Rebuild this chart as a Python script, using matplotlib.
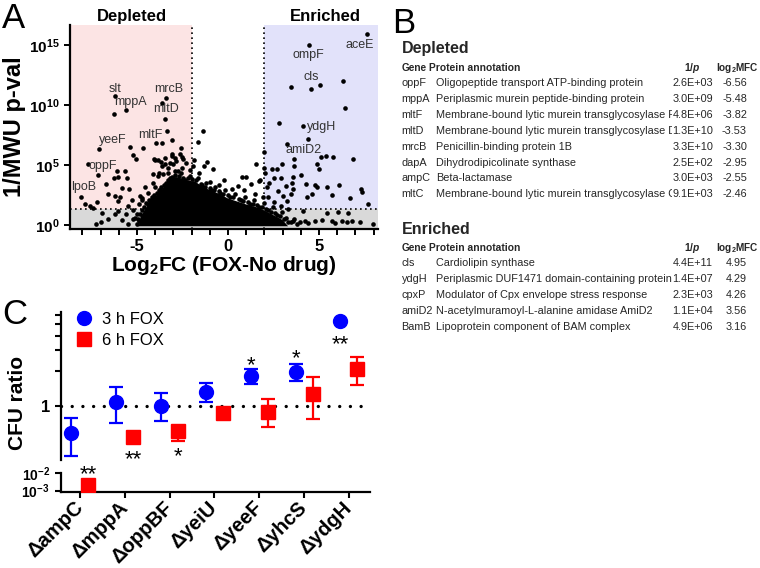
import matplotlib
matplotlib.use('Agg')
import matplotlib.pyplot as plt
import numpy as np
from matplotlib.lines import Line2D
from matplotlib.ticker import MultipleLocator, NullLocator
from matplotlib.transforms import Bbox, TransformedBbox

plt.rcParams['font.family'] = 'Liberation Sans'
plt.rcParams['mathtext.fontset'] = 'custom'
plt.rcParams['mathtext.rm'] = 'Liberation Sans'
plt.rcParams['mathtext.bf'] = 'Liberation Sans:bold'
plt.rcParams['mathtext.it'] = 'Liberation Sans:bold:italic'
plt.rcParams['axes.unicode_minus'] = False

# ---------------- panel A data: (log2 FC, log10 of 1/p) ----------------
depleted_pts = [
    (-6.21, 10.78), (-5.62, 9.58), (-6.25, 9.22), (-3.41, 10.56), (-3.63, 10.2), (-3.46, 8.87),
    (-3.35, 7.83), (-3.06, 7.08), (-3.94, 6.81), (-3.64, 6.81), (-4.65, 6.39), (-5.37, 6.53),
    (-7.07, 6.31), (-2.58, 6.45), (-5.2, 5.81), (-5.05, 5.48), (-4.05, 5.53), (-3.86, 5.42),
    (-3.46, 5.62), (-3.06, 5.75), (-2.87, 5.33), (-2.51, 5.67), (-7.71, 5.06), (-7.13, 4.14),
    (-6.12, 4.5), (-5.66, 4.47), (-6.25, 3.95), (-6.03, 4.03), (-5.57, 3.95), (-6.72, 3.39),
    (-5.84, 3.11), (-5.42, 2.97), (-6.58, 2.56), (-8.05, 2.3), (-7.86, 1.73), (-7.58, 1.58),
    (-7.21, 1.87), (-6.21, 2.42), (-5.93, 2.34), (-6.03, 1.95), (-5.48, 1.58), (-4.84, 2.42),
    (-4.71, 2.06), (-5.29, 2.06), (-4.41, 1.73), (-4.23, 2.06), (-4.01, 3.12), (-3.8, 2.9),
    (-4.1, 4.22), (-3.79, 4.36), (-3.61, 4.92), (-3.28, 4.78), (-3.0, 5.06), (-2.73, 4.5),
    (-2.32, 5.2), (-7.27, 0.06), (-6.98, 0.2), (-6.58, 0.48), (-6.21, 0.9), (-6.03, 1.17),
    (-5.8, 0.4), (-5.5, 0.1), (-5.2, 0.5), (-5.0, 0.9), (-4.9, 0.3), (-5.6, 0.9), (-6.9, 1.0),
    (-7.4, 1.4), (-4.01, 5.42), (-3.7, 5.25), (-3.46, 5.06), (-3.19, 5.14), (-2.91, 4.5),
    (-2.54, 4.78), (-2.45, 5.48), (-3.55, 4.22), (-3.83, 4.08), (-3.28, 4.36), (-4.56, 3.12),
    (-4.38, 2.7), (-4.74, 2.28), (-4.1, 3.53), (-2.64, 5.89), (-3.1, 5.9), (-2.9, 5.6),
]
middle_pts = [
    (-1.36, 7.8), (-1.67, 6.93), (-1.87, 5.42), (-1.14, 5.25), (-0.81, 4.7), (-1.32, 4.92),
    (-0.22, 3.75), (0.79, 4.03), (1.0, 4.03), (1.54, 5.06), (1.99, 6.11), (1.98, 4.72),
    (1.76, 3.75), (0.57, 3.25), (1.26, 3.45), (1.72, 3.64), (0.2, 3.0), (-0.5, 3.3),
    (-1.6, 4.3), (-2.1, 4.6), (-1.9, 4.9), (0.9, 2.9), (1.5, 2.6), (1.9, 2.3), (-1.0, 3.6),
]
enriched_pts = [
    (7.62, 15.97), (4.47, 15.03), (3.45, 11.5), (4.56, 11.35), (5.05, 11.7), (6.3, 12.0),
    (6.4, 9.8), (2.8, 8.47), (4.14, 8.3), (4.38, 7.2), (3.22, 6.72), (5.11, 5.7), (5.38, 5.75),
    (5.75, 5.67), (6.85, 5.53), (2.03, 4.36), (2.4, 4.64), (2.67, 4.64), (2.95, 5.11),
    (3.64, 5.48), (3.64, 4.92), (2.55, 3.95), (2.89, 3.95), (3.59, 4.03), (4.0, 4.17),
    (4.87, 5.06), (5.02, 4.7), (4.29, 3.39), (4.78, 3.31), (4.87, 3.12), (5.42, 3.17),
    (6.12, 3.33), (4.6, 2.56), (4.32, 2.34), (5.7, 2.48), (6.7, 2.22), (7.29, 2.97),
    (7.34, 2.75), (7.71, 1.78), (3.19, 3.25), (3.5, 3.53), (3.59, 2.97), (2.12, 3.12),
    (2.27, 3.53), (2.76, 2.83), (3.04, 2.42), (3.22, 2.0), (3.46, 2.61), (4.1, 1.12),
    (5.42, 0.95), (6.61, 0.95), (6.06, 1.03), (3.59, 0.3), (3.96, 0.2), (4.23, 0.35),
    (4.41, 0.15), (4.78, 0.3), (5.15, 0.4), (5.7, 0.3), (5.88, 0.15), (6.25, 0.35),
    (6.52, 0.2), (6.8, 0.3), (7.25, 0.25), (7.98, 0.05), (2.2, 2.3), (2.5, 1.9), (2.9, 1.6),
    (3.3, 1.3),
]
blob_edge_pts = [
    (-4.7, 1.2), (-4.5, 1.8), (-4.2, 2.3), (-3.9, 2.7), (-3.7, 3.2), (-3.4, 3.5), (-3.2, 3.9),
    (-2.9, 4.2), (-2.7, 4.1), (-2.45, 3.95), (-2.2, 3.9), (-2.0, 3.8), (-1.75, 3.75),
    (-1.5, 3.45), (-1.25, 3.2), (-1.0, 3.1), (-0.75, 2.9), (-0.5, 2.8), (-0.25, 2.6),
    (0.0, 2.45), (0.3, 2.3), (0.6, 2.15), (0.85, 2.0), (1.1, 1.9), (1.35, 1.75), (1.6, 1.65),
    (1.85, 1.5), (2.1, 1.35), (2.35, 1.1), (2.6, 0.95), (2.85, 0.7), (3.1, 0.5), (3.3, 0.25),
    (-4.95, 0.5), (-5.0, 0.1),
    (-4.85, 0.9), (-4.6, 1.5), (-4.35, 2.05), (-4.05, 2.5), (-3.95, 2.1), (-3.75, 2.95),
    (-3.5, 3.3), (-3.3, 3.75), (-3.05, 4.0), (-2.85, 3.85), (-2.6, 4.3), (-2.35, 3.75),
    (-2.1, 4.05), (-1.9, 3.5), (-1.65, 3.9), (-1.45, 3.3), (-1.2, 3.5), (-0.95, 2.95),
    (-0.7, 3.2), (-0.45, 2.7), (-0.15, 2.9), (0.1, 2.35), (0.4, 2.6), (0.7, 2.05),
    (0.95, 2.35), (1.2, 1.75), (1.45, 2.1), (1.7, 1.45), (1.95, 1.8), (2.2, 1.2), (2.45, 1.5),
    (2.7, 0.8), (2.95, 1.1), (3.2, 0.6), (3.45, 0.2), (3.6, 0.5), (3.8, 0.1), (-5.1, 0.6),
    (-5.2, 1.2), (-4.9, 1.7),
]
# outline of the solid mass of overlapping points in the middle
blob_fc = [-4.9, -4.8, -4.5, -4.3, -3.9, -3.6, -3.3, -3.0, -2.6, -2.2, -1.8, -1.4, -1.0,
           -0.5, 0.0, 0.5, 1.0, 1.5, 2.0, 2.5, 3.0, 3.3]
blob_logp = [-0.12, 0.7, 1.4, 2.0, 2.5, 3.0, 3.6, 4.0, 3.9, 3.7, 3.6, 3.2, 2.9,
             2.6, 2.2, 1.95, 1.7, 1.5, 1.2, 0.8, 0.4, -0.12]
gene_labels = ['slt', 'mppA', 'mrcB', 'mltD', 'mltF', 'yeeF', 'oppF', 'lpoB',
               'ompF', 'aceE', 'cls', 'ydgH', 'amiD2']
gene_label_fc = [-6.2, -5.35, -3.28, -3.42, -4.29, -6.34, -6.9, -7.95,
                 4.41, 7.25, 4.6, 5.15, 4.14]
gene_label_logp = [11.37, 10.25, 11.37, 9.64, 7.48, 7.06, 4.92, 3.2,
                   14.23, 15.0, 12.33, 8.17, 6.25]

# ---------------- panel B data ----------------
depleted_rows = [
    ('oppF', 'Oligopeptide transport ATP-binding protein', '2.6E+03', '-6.56'),
    ('mppA', 'Periplasmic murein peptide-binding protein', '3.0E+09', '-5.48'),
    ('mltF', 'Membrane-bound lytic murein transglycosylase F', '4.8E+06', '-3.82'),
    ('mltD', 'Membrane-bound lytic murein transglycosylase D', '1.3E+10', '-3.53'),
    ('mrcB', 'Penicillin-binding protein 1B', '3.3E+10', '-3.30'),
    ('dapA', 'Dihydrodipicolinate synthase', '2.5E+02', '-2.95'),
    ('ampC', 'Beta-lactamase', '3.0E+03', '-2.55'),
    ('mltC', 'Membrane-bound lytic murein transglycosylase C', '9.1E+03', '-2.46'),
]
enriched_rows = [
    ('cls', 'Cardiolipin synthase', '4.4E+11', '4.95'),
    ('ydgH', 'Periplasmic DUF1471 domain-containing protein', '1.4E+07', '4.29'),
    ('cpxP', 'Modulator of Cpx envelope stress response', '2.3E+03', '4.26'),
    ('amiD2', 'N-acetylmuramoyl-L-alanine amidase AmiD2', '1.1E+04', '3.56'),
    ('BamB', 'Lipoprotein component of BAM complex', '4.9E+06', '3.16'),
]

# ---------------- panel C data ----------------
strains = ['\u0394ampC', '\u0394mppA', '\u0394oppBF', '\u0394yeiU', '\u0394yeeF', '\u0394yhcS', '\u0394ydgH']
fox3h = [0.579, 1.08, 1.0, 1.32, 1.80, 1.95, 5.35]
fox3h_lo = [0.372, 0.706, 0.743, 1.07, 1.54, 1.64, 5.35]
fox3h_hi = [0.78, 1.456, 1.28, 1.58, 2.08, 2.27, 5.35]
fox6h = [2.1e-3, 0.54, 0.605, 0.86, 0.89, 1.26, 2.07]
fox6h_lo = [2.1e-3, 0.54, 0.497, 0.86, 0.656, 0.77, 1.51]
fox6h_hi = [2.1e-3, 0.54, 0.64, 0.86, 1.14, 1.75, 2.62]
stars3h = ['', '', '', '', '*', '*', '**']
stars6h = ['**', '**', '*', '', '', '', '']


def fx(px):
    return px / 760.0


def fy(py):
    return 1 - py / 568.0


fig = plt.figure(figsize=(7.6, 5.68), dpi=100)

# ======================= A: volcano =======================
ax = fig.add_axes([fx(70), fy(229), fx(308), 204 / 568.0])
xlo, xhi = -8.68, 8.24
ylo, yhi = 10 ** -0.35, 10 ** 16.7
ax.set_xlim(xlo, xhi)
ax.set_yscale('log')
ax.set_ylim(ylo, yhi)
ax.axvspan(xlo, -2, color='#fce4e4', zorder=0, lw=0)
ax.axvspan(2, xhi, color='#e2e2fa', zorder=0, lw=0)
ax.axhspan(ylo, 20, color='#d9d9d9', zorder=0.5, lw=0)
for v in (-2, 2):
    ax.axvline(v, color='black', ls=(0, (1, 2)), lw=1.2, zorder=1)
ax.axhline(20, color='black', ls=(0, (1, 2)), lw=1.2, zorder=1)

ax.fill(blob_fc, 10 ** np.array(blob_logp), color='black', lw=0, zorder=2)
for pts in (depleted_pts, middle_pts, enriched_pts, blob_edge_pts):
    xs, ls = zip(*pts)
    ax.scatter(xs, 10 ** np.array(ls), s=11, color='black', lw=0, zorder=3)

for lab, gx, gl in zip(gene_labels, gene_label_fc, gene_label_logp):
    ax.text(gx, 10 ** gl, lab, fontsize=9, color='#333333', ha='center', va='center', zorder=4)

for side in ('top', 'right'):
    ax.spines[side].set_visible(False)
for side in ('left', 'bottom'):
    ax.spines[side].set_linewidth(1.6)
ax.xaxis.set_major_locator(MultipleLocator(5))
ax.xaxis.set_minor_locator(MultipleLocator(1))
ax.tick_params(axis='x', which='both', length=4, width=1.4)
ax.set_yticks([1, 1e5, 1e10, 1e15])
ax.set_yticklabels([r'$\mathbf{10^{0}}$', r'$\mathbf{10^{5}}$', r'$\mathbf{10^{10}}$', r'$\mathbf{10^{15}}$'],
                   fontsize=11)
ax.yaxis.set_minor_locator(NullLocator())
ax.tick_params(axis='y', length=4, width=1.4)
for t in ax.get_xticklabels():
    t.set_fontweight('bold')
    t.set_fontsize(12)
ax.set_xlabel(r'Log$_\mathbf{2}$FC (FOX-No drug)', fontsize=15, fontweight='bold', labelpad=0)
ax.set_ylabel('1/MWU p-val', fontsize=17, fontweight='bold', labelpad=2)

fig.text(fx(132), fy(16), 'Depleted', fontsize=12, fontweight='bold', ha='center', va='center')
fig.text(fx(325), fy(16.5), 'Enriched', fontsize=12, fontweight='bold', ha='center', va='center')

# panel letters
fig.text(fx(2), fy(2), 'A', fontsize=25, va='top', ha='left')
fig.text(fx(392), fy(7), 'B', fontsize=25, va='top', ha='left')
fig.text(fx(2), fy(298), 'C', fontsize=25, va='top', ha='left')

# ======================= B: tables =======================
txt = '#262626'
clip = TransformedBbox(Bbox.from_extents(fx(430), 0, fx(672), 1), fig.transFigure)


def table(title, title_y, head_y, row_y0, rows):
    fig.text(fx(401.5), fy(title_y), title, fontsize=11.5, fontweight='bold', va='center', color=txt)
    fig.text(fx(401.5), fy(head_y), 'Gene', fontsize=7.2, fontweight='bold', va='center', color=txt)
    fig.text(fx(429), fy(head_y), 'Protein annotation', fontsize=7.4, fontweight='bold', va='center', color=txt)
    fig.text(fx(692), fy(head_y), r'1/$\mathit{p}$', fontsize=7.4, fontweight='bold', va='center', ha='center', color=txt)
    fig.text(fx(716), fy(head_y), r'log$_\mathbf{2}$MFC', fontsize=7.2, fontweight='bold', va='center', color=txt)
    for i, (g, ann, p, mfc) in enumerate(rows):
        y = fy(row_y0 + i * 15.85)
        fig.text(fx(401.5), y, g, fontsize=7.8, va='center', color=txt)
        t = fig.text(fx(436), y, ann, fontsize=7.8, va='center', color=txt)
        t.set_clip_box(clip)
        t.set_clip_on(True)
        fig.text(fx(713), y, p, fontsize=7.8, va='center', ha='right', color=txt)
        fig.text(fx(747), y, mfc, fontsize=7.8, va='center', ha='right', color=txt)


table('Depleted', 49, 67.7, 83.3, depleted_rows)
table('Enriched', 229.3, 247.7, 263.3, enriched_rows)

# ======================= C: CFU ratio =======================
axc = fig.add_axes([fx(61), fy(460), fx(309), (460 - 311.7) / 568.0])
axl = fig.add_axes([fx(61), fy(491.7), fx(309), (491.7 - 473.3) / 568.0])
xpos = np.arange(len(strains))
off = 0.19
f3 = np.array(fox3h)
f6 = np.array(fox6h)
for a in (axc, axl):
    a.set_yscale('log')
    a.set_xlim(-0.42, 6.47)
    a.errorbar(xpos - off, f3, yerr=[f3 - np.array(fox3h_lo), np.array(fox3h_hi) - f3],
               fmt='o', color='blue', ms=10, capsize=5, elinewidth=1.6, capthick=1.6, zorder=3)
    a.errorbar(xpos + off, f6, yerr=[f6 - np.array(fox6h_lo), np.array(fox6h_hi) - f6],
               fmt='s', color='red', ms=9.5, capsize=5, elinewidth=1.6, capthick=1.6, zorder=3)
    for side in ('top', 'right'):
        a.spines[side].set_visible(False)
    a.spines['left'].set_linewidth(1.6)
    a.spines['bottom'].set_linewidth(1.6)
    a.yaxis.set_minor_locator(NullLocator())
    a.tick_params(axis='both', length=4.5, width=1.5)

axc.set_ylim(0.341, 6.43)
axc.spines['bottom'].set_visible(False)
axc.set_xticks([])
axc.set_yticks([1, 2, 3, 4, 5, 6])
axc.set_yticklabels(['1', '', '', '', '', ''], fontsize=12, fontweight='bold')
axc.axhline(1, color='black', ls=(0, (0.01, 3.2)), lw=2.4, dash_capstyle='round', zorder=1)

axl.set_ylim(8.7e-4, 1e-2)
axl.set_yticks([1e-3, 1e-2])
axl.set_yticklabels([r'$\mathbf{10^{-3}}$', r'$\mathbf{10^{-2}}$'], fontsize=10)
axl.set_xticks(xpos)
axl.set_xticklabels(strains, rotation=45, ha='right', va='center', rotation_mode='anchor',
                    fontsize=14.5, fontweight='bold')
axl.tick_params(axis='x', pad=5)

# significance marks; offsets in pixels (+ up), converted to points from the glyph centre
star_dy3 = [0, 0, 0, 0, 17, 20, -17]
star_dy6 = [17, -16, -19, 0, 0, 0, 0]
for i in range(len(strains)):
    if stars3h[i]:
        axc.annotate(stars3h[i], (i - off, fox3h[i]), xytext=(0, (star_dy3[i] - 12.6) * 0.72),
                     textcoords='offset points', ha='center', va='baseline', fontsize=16,
                     annotation_clip=False)
    if stars6h[i]:
        target = axl if fox6h[i] < 1e-2 else axc
        target.annotate(stars6h[i], (i + off, fox6h[i]), xytext=(0, (star_dy6[i] - 12.6) * 0.72),
                        textcoords='offset points', ha='center', va='baseline', fontsize=16,
                        annotation_clip=False)

handles = [Line2D([], [], marker='o', color='blue', ls='none', ms=10),
           Line2D([], [], marker='s', color='red', ls='none', ms=9.5)]
axc.legend(handles, ['3 h FOX', '6 h FOX'], loc='upper left', bbox_to_anchor=(0.048, 1.0),
           frameon=False, fontsize=12, handlelength=1.0, handletextpad=0.56,
           labelspacing=0.35, borderpad=0, borderaxespad=0)

fig.text(fx(18), fy(403), 'CFU ratio', rotation=90, fontsize=15, fontweight='bold',
         ha='center', va='center')

fig.savefig('out.png', dpi=100)
